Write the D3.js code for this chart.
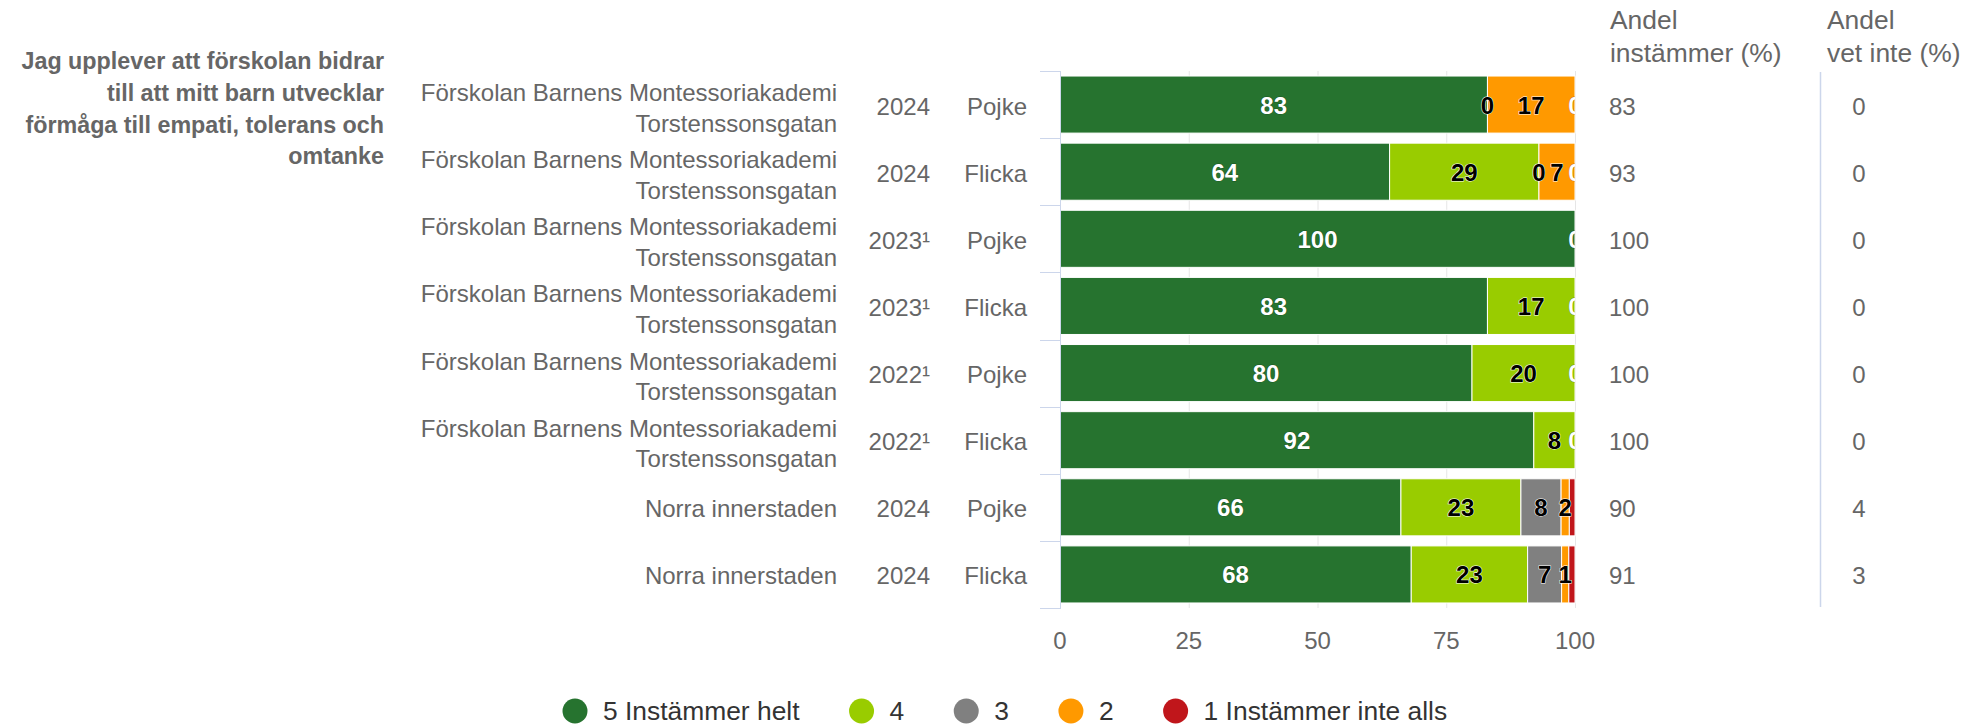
<!DOCTYPE html>
<html>
<head>
<meta charset="utf-8">
<script src="https://cdn.jsdelivr.net/npm/d3@7"></script>
<style>
  body { margin: 0; background: #fff; }
  svg { display: block; font-family: "Liberation Sans", Arial, Helvetica, sans-serif; }
</style>
</head>
<body>
<svg width="1972" height="727"></svg>
<script>
const question = ['Jag upplever att förskolan bidrar', 'till att mitt barn utvecklar', 'förmåga till empati, tolerans och', 'omtanke'];
const schools = [
  ['Förskolan Barnens Montessoriakademi', 'Torstenssonsgatan'],
  ['Förskolan Barnens Montessoriakademi', 'Torstenssonsgatan'],
  ['Förskolan Barnens Montessoriakademi', 'Torstenssonsgatan'],
  ['Förskolan Barnens Montessoriakademi', 'Torstenssonsgatan'],
  ['Förskolan Barnens Montessoriakademi', 'Torstenssonsgatan'],
  ['Förskolan Barnens Montessoriakademi', 'Torstenssonsgatan'],
  ['Norra innerstaden'],
  ['Norra innerstaden'],
];
const years = ['2024', '2024', '2023¹', '2023¹', '2022¹', '2022¹', '2024', '2024'];
const genders = ['Pojke', 'Flicka', 'Pojke', 'Flicka', 'Pojke', 'Flicka', 'Pojke', 'Flicka'];

// answer shares per row, from "5 Instämmer helt" to "1 Instämmer inte alls"
const seriesNames = ['5 Instämmer helt', '4', '3', '2', '1 Instämmer inte alls'];
const seriesColors = ['#26732f', '#99cc00', '#808080', '#ff9900', '#c0161b'];
const labelColors = ['#ffffff', '#000000', '#000000', '#000000', '#ffffff'];
const s5 = [83, 64, 100, 83, 80, 92, 66.2, 68.2];
const s4 = [0, 29, 0, 17, 20, 8, 23.3, 22.6];
const s3 = [0, 0, 0, 0, 0, 0, 7.8, 6.6];
const s2 = [17, 7, 0, 0, 0, 0, 1.6, 1.4];
const s1 = [0, 0, 0, 0, 0, 0, 1.1, 1.2];
const agree = [83, 93, 100, 100, 100, 100, 90, 91];
const dontKnow = [0, 0, 0, 0, 0, 0, 4, 3];
const xTicks = [0, 25, 50, 75, 100];

const svg = d3.select('svg');
const rows = d3.range(years.length);
const series = [s5, s4, s3, s2, s1];

const x = d3.scaleLinear().domain([0, 100]).range([1060, 1575]);
const y = d3.scaleBand().domain(rows).range([71, 608]).paddingInner(0.15).paddingOuter(0.075);
const step = y.step();
const center = (i) => y(i) + y.bandwidth() / 2;
const labelGray = '#666666';

// grid lines
svg.append('g')
  .selectAll('line')
  .data(xTicks)
  .enter()
  .append('line')
  .attr('x1', (d) => x(d) + 0.5)
  .attr('x2', (d) => x(d) + 0.5)
  .attr('y1', 71)
  .attr('y2', 608)
  .attr('stroke', '#e6e6e6');

// stacked bars
const stacked = series.map((s) => s.map(() => [0, 0]));
rows.forEach((r) => {
  let acc = 0;
  series.forEach((s, k) => {
    stacked[k][r] = [acc, acc + s[r]];
    acc += s[r];
  });
});

series.forEach((s, k) => {
  svg.append('g')
    .selectAll('rect')
    .data(rows)
    .enter()
    .append('rect')
    .attr('x', (r) => x(stacked[k][r][0]))
    .attr('y', (r) => y(r))
    .attr('width', (r) => Math.max(0, x(stacked[k][r][1]) - x(stacked[k][r][0])))
    .attr('height', y.bandwidth())
    .attr('fill', seriesColors[k])
    .attr('stroke', '#ffffff')
    .attr('stroke-width', 1);
});

// category axis line and ticks
const axisColor = '#ccd6eb';
svg.append('line')
  .attr('x1', 1060.5).attr('x2', 1060.5)
  .attr('y1', 71).attr('y2', 608)
  .attr('stroke', axisColor);
svg.append('g')
  .selectAll('line')
  .data(d3.range(rows.length + 1))
  .enter()
  .append('line')
  .attr('x1', 1040)
  .attr('x2', 1061)
  .attr('y1', (i) => Math.round(71 + i * step) + 0.5)
  .attr('y2', (i) => Math.round(71 + i * step) + 0.5)
  .attr('stroke', axisColor);

// data labels, clipped to the plot and hidden when they overlap
svg.append('defs')
  .append('clipPath')
  .attr('id', 'plotClip')
  .append('rect')
  .attr('x', 1060)
  .attr('y', 60)
  .attr('width', 515)
  .attr('height', 560);

const labelLayer = svg.append('g').attr('clip-path', 'url(#plotClip)');
rows.forEach((r) => {
  const items = series.map((s, k) => ({
    k,
    v: s[r],
    cx: x((stacked[k][r][0] + stacked[k][r][1]) / 2),
  }));
  items.forEach((it) => {
    it.node = labelLayer.append('text')
      .attr('x', it.cx)
      .attr('y', center(r) + 9)
      .attr('text-anchor', 'middle')
      .attr('font-size', 24)
      .attr('font-weight', 'bold')
      .attr('fill', labelColors[it.k])
      .attr('stroke', labelColors[it.k] === '#ffffff' ? 'rgba(0,0,0,0.3)' : '#ffffff')
      .attr('stroke-width', 1)
      .attr('paint-order', 'stroke')
      .text(Math.round(it.v));
    it.w = it.node.node().getComputedTextLength();
  });
  const order = items.slice().sort((a, b) => (b.v - a.v) || (b.k - a.k));
  const kept = [];
  order.forEach((it) => {
    const hit = kept.some((o) => Math.abs(o.cx - it.cx) < (o.w + it.w) / 2);
    if (hit) it.node.remove();
    else kept.push(it);
  });
});

// x axis labels
svg.append('g')
  .selectAll('text')
  .data(xTicks)
  .enter()
  .append('text')
  .attr('x', (d) => x(d))
  .attr('y', 649)
  .attr('text-anchor', 'middle')
  .attr('font-size', 24)
  .attr('fill', labelGray)
  .text((d) => d);

// question label
svg.append('g')
  .selectAll('text')
  .data(question)
  .enter()
  .append('text')
  .attr('x', 384)
  .attr('y', (d, i) => 69 + i * 31.8)
  .attr('text-anchor', 'end')
  .attr('font-size', 23.3)
  .attr('font-weight', 'bold')
  .attr('fill', labelGray)
  .text((d) => d);

// school, year and gender labels
rows.forEach((r) => {
  const c = center(r);
  const lines = schools[r];
  lines.forEach((line, j) => {
    const yy = lines.length === 1 ? c + 10 : c - 3.5 + j * 30.5;
    svg.append('text')
      .attr('x', 837)
      .attr('y', yy)
      .attr('text-anchor', 'end')
      .attr('font-size', 24)
      .attr('fill', labelGray)
      .text(line);
  });
  svg.append('text')
    .attr('x', 930)
    .attr('y', c + 10)
    .attr('text-anchor', 'end')
    .attr('font-size', 24)
    .attr('fill', labelGray)
    .text(years[r]);
  svg.append('text')
    .attr('x', 1027)
    .attr('y', c + 10)
    .attr('text-anchor', 'end')
    .attr('font-size', 24)
    .attr('fill', labelGray)
    .text(genders[r]);
});

// right hand columns
const headers = [
  { x: 1610, lines: ['Andel', 'instämmer (%)'] },
  { x: 1827, lines: ['Andel', 'vet inte (%)'] },
];
headers.forEach((h) => {
  h.lines.forEach((line, j) => {
    svg.append('text')
      .attr('x', h.x)
      .attr('y', 29 + j * 32.5)
      .attr('font-size', 26.4)
      .attr('fill', labelGray)
      .text(line);
  });
});
svg.append('line')
  .attr('x1', 1820.5).attr('x2', 1820.5)
  .attr('y1', 72).attr('y2', 607)
  .attr('stroke', axisColor)
  .attr('stroke-width', 1.5);

svg.append('g')
  .selectAll('text')
  .data(rows)
  .enter()
  .append('text')
  .attr('x', 1609)
  .attr('y', (r) => center(r) + 10)
  .attr('font-size', 24)
  .attr('fill', labelGray)
  .text((r) => agree[r]);

svg.append('g')
  .selectAll('text')
  .data(rows)
  .enter()
  .append('text')
  .attr('x', 1859)
  .attr('y', (r) => center(r) + 10)
  .attr('text-anchor', 'middle')
  .attr('font-size', 24)
  .attr('fill', labelGray)
  .text((r) => dontKnow[r]);

// legend
const legend = svg.append('g');
let lx = 575;
seriesNames.forEach((name, k) => {
  legend.append('circle')
    .attr('cx', lx)
    .attr('cy', 711)
    .attr('r', 12.5)
    .attr('fill', seriesColors[k]);
  const t = legend.append('text')
    .attr('x', lx + 28)
    .attr('y', 720)
    .attr('font-size', 26.4)
    .attr('fill', '#333333')
    .text(name);
  lx += 28 + t.node().getComputedTextLength() + 62;
});
</script>
</body>
</html>
